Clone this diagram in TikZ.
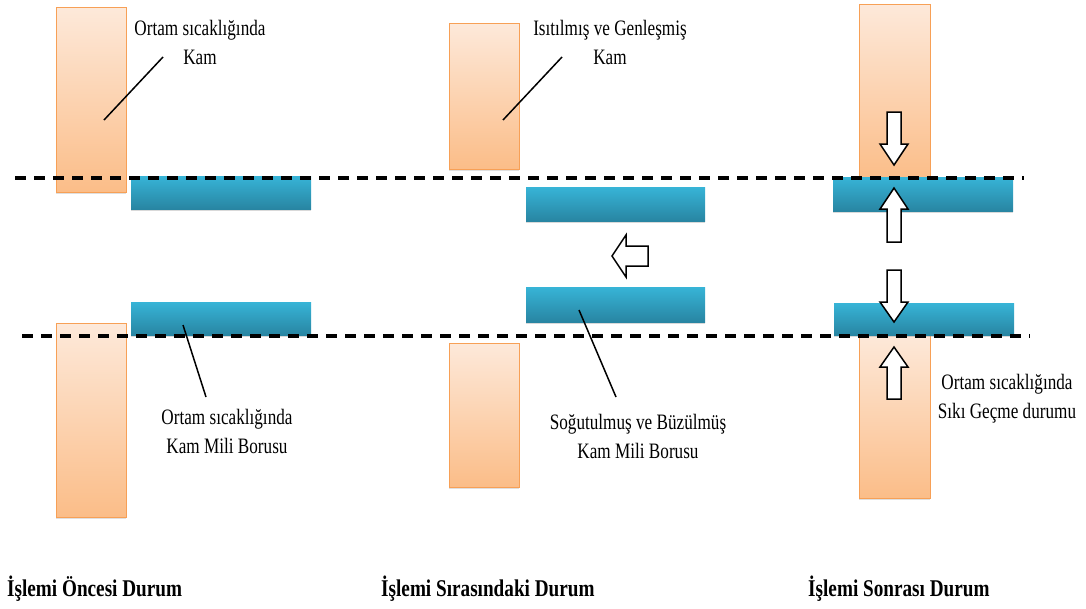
\documentclass[tikz,border=0pt]{standalone}
\usepackage{fontspec}
\newfontfamily\lblfont{Liberation Serif}[FakeStretch=0.78]
\newfontfamily\ttlfont{Liberation Serif}[FakeStretch=0.8]
\usetikzlibrary{shadows}
\begin{document}
\begin{tikzpicture}[x=1pt,y=-1pt,
  cam/.style={draw=camedge, line width=0.9pt, top color=camtop, bottom color=cambot,
     drop shadow={shadow xshift=0pt, shadow yshift=-2pt, opacity=0.25}},
  tube/.style={top color=tubetop, bottom color=tubebot,
     drop shadow={shadow xshift=0pt, shadow yshift=-2pt, opacity=0.3}},
  refline/.style={line width=3.6pt, dash pattern=on 11pt off 8pt, black},
  leader/.style={line width=1.5pt, black},
  blockarr/.style={draw=black, fill=white, line width=1.5pt, line join=miter},
  lbl/.style={font=\lblfont\fontsize{22}{29}\selectfont, align=center, inner sep=0pt},
  ttl/.style={font=\ttlfont\bfseries\fontsize{24}{29}\selectfont, inner sep=0pt, anchor=base west}
]
\definecolor{camedge}{HTML}{F7A056}
\definecolor{camtop}{HTML}{FDE9DA}
\definecolor{cambot}{HTML}{FBBD88}
\definecolor{tubetop}{HTML}{37B4D7}
\definecolor{tubebot}{HTML}{2885A2}
\useasboundingbox (0,0) rectangle (1086,608);

% cams (orange)
\path[cam] (56,7) rectangle (126,192);
\path[cam] (56,323) rectangle (126,517);
\path[cam] (449,23) rectangle (519,169);
\path[cam] (449,343) rectangle (519,487);
\path[cam] (859,4) rectangle (930,180);
\path[cam] (859,334) rectangle (930,498);

% tubes (blue)
\path[tube] (131,176) rectangle (311,209);
\path[tube] (131,302) rectangle (311,335);
\path[tube] (526,187) rectangle (705,221);
\path[tube] (526,287) rectangle (705,322);
\path[tube] (833,177) rectangle (1013,211);
\path[tube] (834,303) rectangle (1014,335);

% reference dashed lines
\coordinate (l1a) at (15,178);
\coordinate (l1b) at (1024,178);
\coordinate (l2a) at (22,336);
\coordinate (l2b) at (1030,336);
\draw[refline] (l1a) -- (l1b);
\draw[refline] (l2a) -- (l2b);

% block arrows
\draw[blockarr] (612,256) -- (626,235) -- (626,246) -- (648,246) -- (648,266) -- (626,266) -- (626,277) -- cycle;
\draw[blockarr] (887,112) -- (901,112) -- (901,144) -- (908,144) -- (894,165) -- (880,144) -- (887,144) -- cycle;
\draw[blockarr] (894,188) -- (908,209) -- (901,209) -- (901,242) -- (887,242) -- (887,209) -- (880,209) -- cycle;
\draw[blockarr] (887,270) -- (901,270) -- (901,302) -- (908,302) -- (894,322) -- (880,302) -- (887,302) -- cycle;
\draw[blockarr] (894,347) -- (908,367) -- (901,367) -- (901,399) -- (887,399) -- (887,367) -- (880,367) -- cycle;

% labels
\node[lbl] (t1) at (200,42) {Ortam sıcaklığında\\Kam};
\node[lbl] (t2) at (227,431) {Ortam sıcaklığında\\Kam Mili Borusu};
\node[lbl] (t3) at (610,42) {Isıtılmış ve Genleşmiş\\Kam};
\node[lbl] (t4) at (638,436) {Soğutulmuş ve Büzülmüş\\Kam Mili Borusu};
\node[lbl] (t5) at (1007,399) {Ortam sıcaklığında\\Sıkı Geçme durumu};

% leaders
\coordinate (p1) at (104,120);
\coordinate (q1) at (163,57);
\coordinate (p2) at (183,325);
\coordinate (q2) at (206,397);
\coordinate (p3) at (503,120);
\coordinate (q3) at (562,57);
\coordinate (p4) at (579,310);
\coordinate (q4) at (616,397);
\draw[leader] (p1) -- (q1);
\draw[leader] (p2) -- (q2);
\draw[leader] (p3) -- (q3);
\draw[leader] (p4) -- (q4);

% titles
\node[ttl] (h1) at (7,596) {İşlemi Öncesi Durum};
\node[ttl] (h2) at (381,596) {İşlemi Sırasındaki Durum};
\node[ttl] (h3) at (808,596) {İşlemi Sonrası Durum};
\end{tikzpicture}
\end{document}
